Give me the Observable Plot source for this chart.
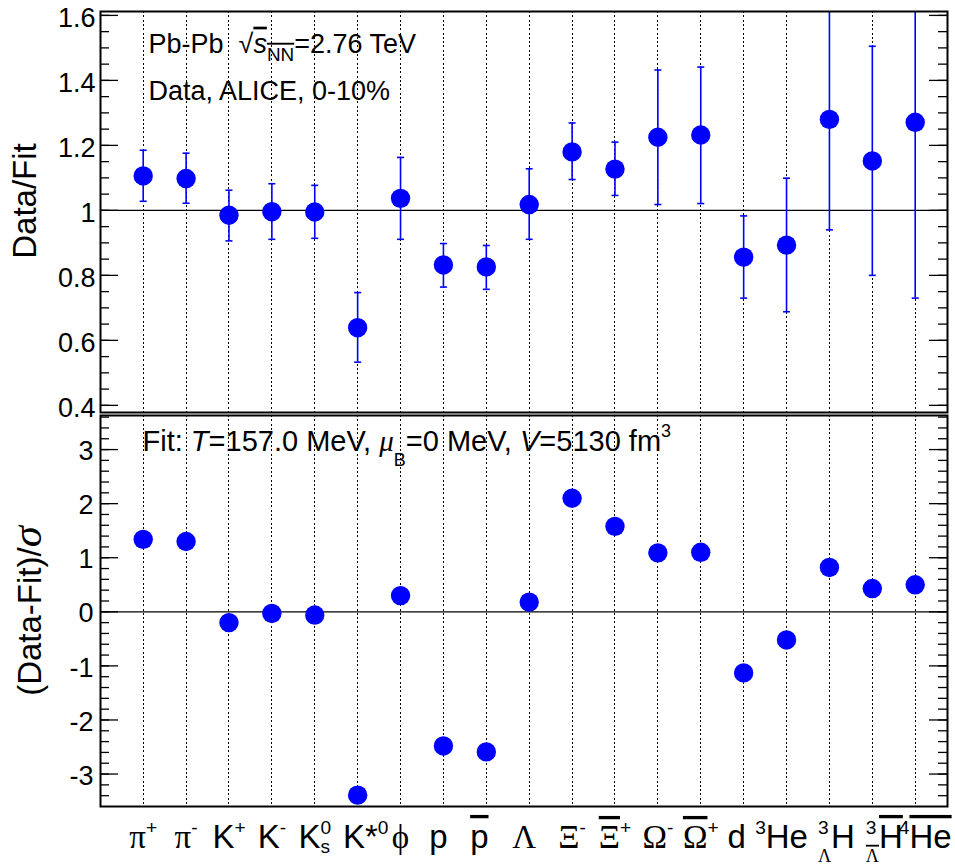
<!DOCTYPE html>
<html><head><meta charset="utf-8">
<script src="https://cdn.jsdelivr.net/npm/d3@7"></script>
<script src="https://cdn.jsdelivr.net/npm/@observablehq/plot@0.6"></script>
<style>
body{margin:0;background:#fff;}
#chart svg{display:block;overflow:visible;}
text{white-space:pre;}
</style></head><body><div id="chart"></div>
<script>
// ---- data ----
const particles = ["π+","π-","K+","K-","K0s","K*0","φ","p","pbar","Λ","Ξ-","Ξbar+","Ω-","Ωbar+","d","3He","3ΛH","3ΛbarHbar","4Hebar"];
const ratio     = [1.106,1.098,0.985,0.996,0.995,0.639,1.037,0.832,0.826,1.018,1.180,1.127,1.225,1.232,0.856,0.893,1.280,1.152,1.271];
const ratioLow  = [1.028,1.022,0.906,0.911,0.914,0.533,0.911,0.764,0.757,0.911,1.095,1.046,1.018,1.021,0.730,0.688,0.940,0.800,0.730];
const ratioHigh = [1.185,1.176,1.062,1.082,1.077,0.747,1.163,0.898,0.892,1.128,1.269,1.210,1.432,1.441,0.983,1.099,1.620,1.505,1.812];
const deviation = [1.34,1.30,-0.20,-0.03,-0.06,-3.39,0.30,-2.48,-2.59,0.18,2.10,1.58,1.09,1.10,-1.13,-0.52,0.82,0.43,0.50];
const topTicks = [0.4,0.6,0.8,1.0,1.2,1.4,1.6];
const topTickLabels = ["0.4","0.6","0.8","1","1.2","1.4","1.6"];
const bottomTicks = [-3,-2,-1,0,1,2,3];
const bottomTickLabels = ["-3","-2","-1","0","1","2","3"];
const topTitle = "Data/Fit";
const bottomTitle = "(Data-Fit)/σ";
const note1 = "Pb-Pb √sNN=2.76 TeV";
const note2 = "Data, ALICE, 0-10%";
const note3 = "Fit: T=157.0 MeV, μB=0 MeV, V=5130 fm3";

// ---- layout / style ----
const W = 955, ML = 100, MR = 8;
const xDomain = [-0.9956, 18.753];
const topDomain = [0.378, 1.612];
const botDomain = [-3.6, 3.63];
const blue = "#0000ff";
const SANS = "Liberation Sans, Arial, Helvetica, sans-serif";
const SERIF = "Liberation Serif, DejaVu Serif, Times New Roman, serif";
const idx = particles.map((_, i) => i);
const kx = (W - ML - MR) / (xDomain[1] - xDomain[0]);
const majLen = 18 / kx, minLen = 9 / kx;
const topMinor = d3.range(0.4, 1.6001, 0.05).map(v => +v.toFixed(3));
const botMinor = d3.range(-3.4, 3.6001, 0.2).map(v => +v.toFixed(3));

const capSymbol = {draw(ctx, size) { const w = Math.sqrt(size / Math.PI); ctx.moveTo(-w, 0); ctx.lineTo(w, 0); }};

function frameTicks(major, minor) {
  const L = xDomain[0], R = xDomain[1];
  const o = {stroke: "black", strokeWidth: 1.3};
  return [
    Plot.ruleY(major, {y: d => d, x1: L, x2: L + majLen, ...o}),
    Plot.ruleY(major, {y: d => d, x1: R - majLen, x2: R, ...o}),
    Plot.ruleY(minor, {y: d => d, x1: L, x2: L + minLen, ...o}),
    Plot.ruleY(minor, {y: d => d, x1: R - minLen, x2: R, ...o})
  ];
}
const gridDots = () => Plot.ruleX(idx, {x: d => d, stroke: "black", strokeWidth: 1, strokeDasharray: "2,2.3", shapeRendering: "crispEdges"});

const topPlot = Plot.plot({
  width: W, height: 413, marginLeft: ML, marginRight: MR, marginTop: 11, marginBottom: 1,
  style: {fontFamily: SANS, color: "black", background: "white"},
  x: {domain: xDomain, axis: null},
  y: {domain: topDomain, axis: null},
  marks: [
    gridDots(),
    Plot.ruleY([1], {stroke: "black", strokeWidth: 1.3}),
    Plot.ruleX(idx, {x: i => i, y1: i => ratioLow[i], y2: i => ratioHigh[i], stroke: blue, strokeWidth: 1.6, clip: true}),
    Plot.dot(idx, {x: i => i, y: i => ratioLow[i], symbol: capSymbol, r: 3.5, stroke: blue, strokeWidth: 1.6, clip: true}),
    Plot.dot(idx, {x: i => i, y: i => ratioHigh[i], symbol: capSymbol, r: 3.5, stroke: blue, strokeWidth: 1.6, clip: true}),
    Plot.dot(idx, {x: i => i, y: i => ratio[i], r: 9.7, fill: blue}),
    ...frameTicks(topTicks, topMinor),
    Plot.frame({stroke: "black", strokeWidth: 2}),
    Plot.axisY({ticks: topTicks, tickSize: 0, tickPadding: 5, fontSize: 27, dy: 3, tickFormat: d => topTickLabels[topTicks.indexOf(d)], label: null}),
    Plot.text([topTitle], {frameAnchor: "left", dx: -75, dy: -11, rotate: -90, textAnchor: "middle", fontSize: 33, text: d => d}),
    Plot.text([note1], {frameAnchor: "top-left", dx: 48, dy: 22, lineAnchor: "top", textAnchor: "start", fontSize: 27, text: d => d}),
    Plot.text([note2], {frameAnchor: "top-left", dx: 48, dy: 69, lineAnchor: "top", textAnchor: "start", fontSize: 27, text: d => d})
  ]
});

const bottomPlot = Plot.plot({
  width: W, height: 455, marginLeft: ML, marginRight: MR, marginTop: 2, marginBottom: 62,
  style: {fontFamily: SANS, color: "black", background: "white"},
  x: {domain: xDomain, axis: null},
  y: {domain: botDomain, axis: null},
  marks: [
    gridDots(),
    Plot.ruleY([0], {stroke: "black", strokeWidth: 1.3}),
    Plot.dot(idx, {x: i => i, y: i => deviation[i], r: 9.7, fill: blue, clip: true}),
    ...frameTicks(bottomTicks, botMinor),
    Plot.frame({stroke: "black", strokeWidth: 2}),
    Plot.axisY({ticks: bottomTicks, tickSize: 0, tickPadding: 7, fontSize: 27, dy: 2, tickFormat: d => bottomTickLabels[bottomTicks.indexOf(d)], label: null}),
    Plot.axisX({ticks: idx, tickSize: 0, tickPadding: 18, fontSize: 33, tickFormat: i => particles[i], label: null}),
    Plot.text([bottomTitle], {frameAnchor: "left", dx: -70, dy: 0, rotate: -90, textAnchor: "middle", fontSize: 33, text: d => d}),
    Plot.text([note3], {frameAnchor: "top-left", dx: 42, dy: 15, lineAnchor: "top", textAnchor: "start", fontSize: 29, text: d => d})
  ]
});

const chart = document.getElementById("chart");
chart.appendChild(topPlot);
chart.appendChild(bottomPlot);

// ---- rich text (super/subscripts, italics, overlines) ----
const NS = "http://www.w3.org/2000/svg";
function rich(el, segs, F) {
  while (el.firstChild) el.removeChild(el.firstChild);
  let level = 0;
  for (const s of segs) {
    const ts = document.createElementNS(NS, "tspan");
    const small = s.sup || s.sub;
    const size = F * (s.size || (small ? 0.58 : 1));
    const target = s.sup ? -(s.shift || 0.43) * F : s.sub ? (s.shift || 0.2) * F : 0;
    if (target !== level) { ts.setAttribute("dy", (target - level).toFixed(2)); level = target; }
    if (s.back) ts.setAttribute("dx", (-s.back * F).toFixed(2));
    else if (s.dx) ts.setAttribute("dx", (s.dx * F).toFixed(2));
    ts.setAttribute("font-size", size.toFixed(2));
    if (s.g) ts.setAttribute("font-family", SERIF);
    if (s.i) ts.setAttribute("font-style", "italic");
    if (s.over) ts.setAttribute("style", "text-decoration:overline;text-decoration-thickness:2.5px;");
    ts.textContent = s.t;
    el.appendChild(ts);
  }
}
const labelSpecs = {
  "π+": [{t: "π", g: 1}, {t: "+", sup: 1}],
  "π-": [{t: "π", g: 1}, {t: "-", sup: 1}],
  "K+": [{t: "K"}, {t: "+", sup: 1}],
  "K-": [{t: "K"}, {t: "-", sup: 1}],
  "K0s": [{t: "K"}, {t: "0", sup: 1}, {t: "s", sub: 1, back: 0.32, shift: 0.15}],
  "K*0": [{t: "K*"}, {t: "0", sup: 1}],
  "φ": [{t: "ϕ", g: 1}],
  "p": [{t: "p"}],
  "pbar": [{t: "p", over: 1}],
  "Λ": [{t: "Λ", g: 1}],
  "Ξ-": [{t: "Ξ", g: 1}, {t: "-", sup: 1}],
  "Ξbar+": [{t: "Ξ", g: 1, over: 1}, {t: "+", sup: 1}],
  "Ω-": [{t: "Ω", g: 1}, {t: "-", sup: 1}],
  "Ωbar+": [{t: "Ω", g: 1, over: 1}, {t: "+", sup: 1}],
  "d": [{t: "d"}],
  "3He": [{t: "3", sup: 1}, {t: "He"}],
  "3ΛH": [{t: "3", sup: 1}, {t: "Λ", sub: 1, g: 1, back: 0.32, shift: 0.42, size: 0.55}, {t: "H"}],
  "3ΛbarHbar": [{t: "3", sup: 1}, {t: "Λ", sub: 1, g: 1, over: 1, back: 0.32, shift: 0.42, size: 0.55}, {t: "H", over: 1}],
  "4Hebar": [{t: "4", sup: 1}, {t: "He", over: 1}]
};
// ROOT-style horizontal nudges of a few category labels (px)
const labelNudge = {"K*0": 8, "p": -5, "pbar": -7, "Λ": -5, "d": -7, "3He": -5, "3ΛH": 7, "3ΛbarHbar": 12, "4Hebar": 10};
const noteSpecs = {
  [note1]: [{t: "Pb-Pb  "}, {t: "√"}, {t: "s", i: 1, over: 1}, {t: "NN", sub: 1, over: 1, shift: 0.3, size: 0.7}, {t: "=2.76 TeV"}],
  [note2]: [{t: "Data, ALICE, 0-10%"}],
  [note3]: [{t: "Fit: "}, {t: "T", i: 1}, {t: "=157.0 MeV, "}, {t: "μ", i: 1, g: 1}, {t: "B", sub: 1, shift: 0.5, size: 0.62}, {t: "=0 MeV, "}, {t: "V", i: 1}, {t: "=5130 fm"}, {t: "3", sup: 1, shift: 0.48, size: 0.62}],
  [bottomTitle]: [{t: "(Data-Fit)/"}, {t: "σ", i: 1, g: 1, size: 1.3}]
};
const noteSize = {[note1]: 27, [note2]: 27, [note3]: 29, [bottomTitle]: 33};
for (const svg of [topPlot, bottomPlot]) {
  for (const t of svg.querySelectorAll("text")) {
    const s = t.textContent;
    if (labelSpecs[s]) {
      rich(t, labelSpecs[s], 33);
      if (labelNudge[s]) t.setAttribute("x", labelNudge[s]);
    } else if (noteSpecs[s]) rich(t, noteSpecs[s], noteSize[s]);
  }
}
</script></body></html>
